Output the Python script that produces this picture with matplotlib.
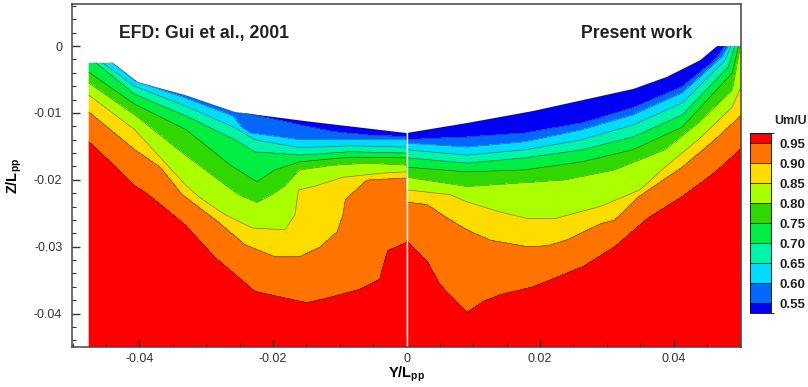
import numpy as np
import matplotlib
matplotlib.use('Agg')
import matplotlib.pyplot as plt
from matplotlib.patches import Polygon
from matplotlib.colors import ListedColormap, BoundaryNorm
from matplotlib.cm import ScalarMappable
from matplotlib.ticker import MultipleLocator, FuncFormatter

plt.rcParams['font.family'] = ['Liberation Sans', 'DejaVu Sans']
plt.rcParams['axes.unicode_minus'] = False
plt.rcParams['mathtext.fontset'] = 'custom'
plt.rcParams['mathtext.rm'] = 'Liberation Sans'
plt.rcParams['mathtext.bf'] = 'Liberation Sans:bold'

# contour levels of Um/U and band colours (lowest band first)
levels = [0.55, 0.60, 0.65, 0.70, 0.75, 0.80, 0.85, 0.90, 0.95]
band_colors = ['#0000f5', '#0068ff', '#00dcff', '#00f5aa', '#00ee44',
               '#2ed800', '#aaff00', '#ffdc00', '#ff7300', '#ff0000']

# all positions below, in units of 1e-3 (Y/Lpp, Z/Lpp)
# --- left half: EFD (Gui et al., 2001)
left_hull_y = [-47.6, -44.0, -40.2, -33.2, -25.7, -14.5, 0.0]
left_hull_z = [-2.5, -2.5, -5.4, -7.3, -9.85, -11.3, -13.0]
left_lines = [
    ([-47.6, -42.5, -40.7, -33.0, -26.0, -23.4, -20.4, -16.0, -11.0, -5.9, 0.0],
     [-1.2, -2.5, -4.5, -7.0, -9.55, -10.2, -10.8, -11.8, -12.8, -13.3, -13.6]),
    ([-47.6, -44.0, -40.7, -33.0, -26.0, -24.6, -23.4, -20.4, -16.0, 0.0],
     [-1.5, -2.5, -5.2, -7.8, -10.45, -12.2, -13.0, -13.4, -14.0, -14.0]),
    ([-47.6, -45.5, -40.7, -33.0, -25.7, -22.7, -16.0, -8.5, 0.0],
     [-1.8, -2.5, -6.0, -9.0, -12.2, -14.0, -15.2, -14.9, -15.1]),
    ([-47.6, -46.5, -40.7, -33.0, -25.7, -22.7, -19.7, -16.0, -8.5, 0.0],
     [-2.1, -2.5, -7.2, -10.45, -14.0, -15.8, -16.0, -16.3, -15.8, -16.0]),
    ([-47.6, -40.7, -33.0, -26.4, -22.4, -19.7, -16.0, -8.5, 0.0],
     [-3.9, -8.7, -12.5, -17.8, -20.3, -18.5, -17.3, -16.6, -16.7]),
    ([-47.6, -40.7, -33.0, -25.2, -22.4, -20.1, -18.2, -16.0, -11.0, -5.9, 0.0],
     [-5.5, -10.3, -16.4, -22.2, -23.4, -22.2, -20.9, -18.5, -17.8, -17.5, -17.8]),
    ([-47.6, -40.7, -33.0, -30.9, -27.2, -23.1, -18.2, -16.7, -16.2, -14.0, -9.5, -3.5, 0.0],
     [-7.3, -12.5, -20.9, -22.7, -25.2, -27.2, -27.5, -25.2, -21.5, -21.0, -19.6, -19.0, -18.8]),
    ([-47.6, -40.7, -36.9, -33.6, -28.2, -24.2, -19.7, -16.0, -13.0, -10.4, -9.5, -9.2, -5.9, 0.0],
     [-9.85, -15.5, -18.1, -22.2, -26.3, -29.7, -31.5, -31.5, -30.1, -27.8, -25.2, -23.0, -20.0, -19.7]),
    ([-47.6, -44.4, -40.7, -38.7, -33.2, -28.7, -22.7, -14.9, -11.5, -7.0, -4.0, -3.5, -2.8, 0.0],
     [-14.3, -17.3, -20.9, -22.2, -26.7, -31.6, -36.7, -38.4, -37.6, -36.4, -34.9, -33.0, -30.6, -29.4]),
]

# --- right half: present work
right_hull_y = [0.0, 9.1, 19.0, 29.0, 34.0, 39.0, 44.0, 46.5, 50.5]
right_hull_z = [-13.0, -11.5, -9.7, -7.5, -6.4, -4.6, -2.1, 0.0, 0.0]
right_lines = [
    ([0.0, 9.1, 17.8, 26.3, 33.9, 41.3, 46.2, 47.7, 50.5],
     [-14.0, -13.6, -13.0, -11.5, -9.25, -6.1, -2.1, 0.0, 2.4]),
    ([0.0, 9.1, 17.8, 26.3, 33.9, 41.3, 47.3, 48.2, 50.5],
     [-14.5, -15.1, -14.3, -12.5, -10.3, -7.0, -1.6, 0.0, 1.6]),
    ([0.0, 9.1, 17.8, 26.3, 33.9, 41.3, 47.7, 48.6, 50.5],
     [-15.5, -16.3, -15.5, -14.0, -11.8, -8.5, -2.1, 0.0, 1.2]),
    ([0.0, 9.1, 17.8, 26.3, 33.9, 41.3, 48.2, 49.1, 50.5],
     [-16.7, -17.5, -16.7, -15.5, -13.6, -10.3, -3.1, 0.0, 0.9]),
    ([0.0, 9.1, 17.8, 26.3, 33.9, 41.3, 48.8, 49.7, 50.5],
     [-18.1, -18.8, -18.5, -17.3, -15.5, -12.1, -4.0, 0.0, 0.6]),
    ([0.0, 9.1, 17.8, 23.7, 31.2, 38.7, 43.7, 48.8, 50.0, 50.5],
     [-19.6, -21.0, -20.4, -20.0, -18.5, -15.5, -11.5, -6.6, 0.0, 0.3]),
    ([0.0, 6.5, 9.1, 14.0, 18.1, 22.2, 29.0, 35.0, 38.7, 43.7, 48.8, 50.5],
     [-21.5, -22.2, -23.3, -24.8, -25.8, -25.8, -24.0, -21.5, -18.1, -14.0, -9.1, -5.1]),
    ([0.0, 3.1, 6.1, 9.1, 12.5, 18.1, 21.2, 24.0, 29.0, 31.2, 34.8, 41.3, 46.2, 50.5],
     [-23.3, -23.7, -25.7, -27.5, -29.0, -30.0, -29.85, -29.0, -26.6, -26.0, -22.5, -18.1, -14.0, -10.0]),
    ([0.0, 3.1, 5.0, 9.1, 11.5, 14.0, 19.0, 26.4, 31.2, 36.2, 41.3, 46.2, 50.5],
     [-29.1, -32.2, -35.7, -39.85, -38.2, -37.2, -36.0, -33.0, -30.0, -25.7, -22.5, -18.9, -15.0]),
]

zbot = -0.046


def field_from_lines(lines, yy, zz):
    # depth of each contour at every column, then Um/U along the column
    depth = np.array([np.interp(yy, np.array(ly) * 1e-3, np.array(lz) * 1e-3)
                      for ly, lz in lines])
    depth = np.minimum.accumulate(depth, axis=0)
    depth -= np.arange(len(levels))[:, None] * 1e-7
    fp = np.concatenate(([1.0], levels[::-1], [0.5]))
    out = np.empty((len(zz), len(yy)))
    for j in range(len(yy)):
        d = depth[::-1, j]
        xp = np.concatenate(([d[0] - 0.004], d, [d[-1] + 0.004]))
        out[:, j] = np.interp(zz, xp, fp)
    return out


fig = plt.figure(figsize=(8.08, 3.87), dpi=100)
ax = fig.add_axes([0.0891, 0.1034, 0.828, 0.8863])

fill_levels = [0.0] + levels + [2.0]
zz = np.linspace(zbot, 0.003, 500)

for hull_y, hull_z, lines, y0, y1 in [
        (left_hull_y, left_hull_z, left_lines, -0.0476, 0.0),
        (right_hull_y, right_hull_z, right_lines, 0.0, 0.0505)]:
    yy = np.linspace(y0, y1, 500)
    uu = field_from_lines(lines, yy, zz)
    hy = np.array(hull_y) * 1e-3
    hz = np.array(hull_z) * 1e-3
    verts = [(y0, zbot)] + list(zip(hy, hz)) + [(y1, zbot)]
    clip = Polygon(verts, closed=True, transform=ax.transData)
    cf = ax.contourf(yy, zz, uu, levels=fill_levels, colors=band_colors)
    cf.set_clip_path(clip)
    cl = ax.contour(yy, zz, uu, levels=levels, colors='#222222',
                    linewidths=0.45, alpha=0.6)
    cl.set_clip_path(clip)

ax.plot([0, 0], [zbot, left_hull_z[-1] * 1e-3], color='#fff5f0', lw=1.0)

ax.set_xlim(-0.0501, 0.0501)
ax.set_ylim(-0.045, 0.0063)
ax.xaxis.set_major_locator(MultipleLocator(0.02))
ax.xaxis.set_minor_locator(MultipleLocator(0.005))
ax.yaxis.set_major_locator(MultipleLocator(0.01))
ax.yaxis.set_minor_locator(MultipleLocator(0.002))
fmt = FuncFormatter(lambda v, p: '0' if abs(v) < 1e-9 else ('%g' % round(v, 4)))
ax.xaxis.set_major_formatter(fmt)
ax.yaxis.set_major_formatter(fmt)
ax.tick_params(which='both', direction='in', top=False, right=False,
               colors='#333333', labelsize=9)
ax.tick_params(which='major', length=6, width=1.0)
ax.tick_params(which='minor', length=3, width=0.8)
ax.tick_params(axis='y', pad=7)
ax.tick_params(axis='x', pad=4)
for s in ax.spines.values():
    s.set_color('#444444')
    s.set_linewidth(1.1)

ax.set_xlabel(r'$\mathbf{Y/L_{pp}}$', fontsize=10.5, labelpad=0)
ax.set_ylabel(r'$\mathbf{Z/L_{pp}}$', fontsize=10.5, labelpad=7)

ax.text(-0.0304, 0.0019, 'EFD: Gui et al., 2001', ha='center', va='center',
        fontsize=12.7, fontweight='bold', color='#222222')
ax.text(0.0345, 0.0019, 'Present work', ha='center', va='center',
        fontsize=12.7, fontweight='bold', color='#222222')

# colour legend
bounds = [0.525] + levels + [0.975]
cmap = ListedColormap(band_colors)
norm = BoundaryNorm(bounds, cmap.N)
cax = fig.add_axes([0.928, 0.191, 0.026, 0.465])
cb = fig.colorbar(ScalarMappable(norm=norm, cmap=cmap), cax=cax,
                  boundaries=bounds, ticks=levels, spacing='proportional',
                  drawedges=True)
cb.ax.set_yticklabels(['%.2f' % v for v in levels])
cb.ax.tick_params(length=0, labelsize=9.5, pad=6, colors='#222222')
for t in cb.ax.get_yticklabels():
    t.set_fontweight('bold')
cb.outline.set_linewidth(0.6)
cb.dividers.set_linewidth(0.5)
fig.text(0.978, 0.687, 'Um/U', ha='center', va='center', fontsize=9,
         fontweight='bold', color='#222222')

fig.savefig('out.png', dpi=100)
